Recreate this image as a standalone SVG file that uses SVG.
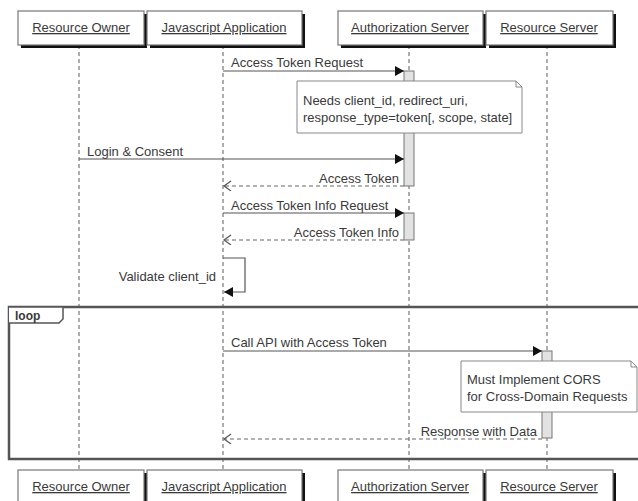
<svg xmlns="http://www.w3.org/2000/svg" width="638" height="501" viewBox="0 0 638 501">
<style>
text{font-family:"Liberation Sans",Arial,sans-serif;font-size:13px;fill:#3a3a3a}
.pbox{fill:#fff;stroke:#777;stroke-width:1.2}
.shadow{fill:#111}
.plabel{text-anchor:middle;text-decoration:underline}
.life{stroke:#777;stroke-width:1.2;stroke-dasharray:4,3;fill:none}
.msg{stroke:#555;stroke-width:1.2;fill:none}
.ret{stroke:#666;stroke-width:1.2;stroke-dasharray:4,3;fill:none}
.act{fill:#e2e2e2;stroke:#777;stroke-width:1}
.note{fill:#fff;stroke:#888;stroke-width:1}
.r{text-anchor:end}
</style>
<defs>
<marker id="filled" markerWidth="10" markerHeight="10" refX="9" refY="5" orient="auto" markerUnits="userSpaceOnUse">
<path d="M0,0 L9,5 L0,10 Z" fill="#111"/>
</marker>
<marker id="open" markerWidth="10" markerHeight="12" refX="8" refY="5" orient="auto" markerUnits="userSpaceOnUse">
<path d="M1,0 L8,5 L1,10" fill="none" stroke="#555" stroke-width="1.2"/>
</marker>
</defs>
<rect width="638" height="501" fill="#fff"/>

<g id="lifelines">
<line class="life" x1="79" y1="45" x2="79" y2="470"/>
<line class="life" x1="223" y1="45" x2="223" y2="470"/>
<line class="life" x1="409" y1="45" x2="409" y2="470"/>
<line class="life" x1="547" y1="45" x2="547" y2="470"/>
</g>

<g id="loop-frame">
<rect x="9" y="307" width="640" height="152" fill="none" stroke="#555" stroke-width="2.5"/>
<path d="M9,307 H63 V319 L59,323 H9" fill="#fff" stroke="#555" stroke-width="1.5"/>
<text x="15" y="320" style="font-weight:bold;font-size:12px">loop</text>
</g>

<g id="activations">
<rect class="act" x="404" y="71" width="10" height="115"/>
<rect class="act" x="404" y="213" width="10" height="27"/>
<rect class="act" x="542" y="351" width="10" height="87"/>
</g>

<g id="p-top-ro"><rect class="shadow" x="21" y="14" width="126" height="34"/><rect class="pbox" x="18" y="11" width="126" height="34"/><text class="plabel" x="81" y="32">Resource Owner</text></g>
<g id="p-top-js"><rect class="shadow" x="150" y="14" width="155" height="34"/><rect class="pbox" x="147" y="11" width="155" height="34"/><text class="plabel" x="224" y="32">Javascript Application</text></g>
<g id="p-top-as"><rect class="shadow" x="341" y="14" width="145" height="34"/><rect class="pbox" x="338" y="11" width="145" height="34"/><text class="plabel" x="410" y="32">Authorization Server</text></g>
<g id="p-top-rs"><rect class="shadow" x="489" y="14" width="127" height="34"/><rect class="pbox" x="486" y="11" width="127" height="34"/><text class="plabel" x="549" y="32">Resource Server</text></g>

<g id="p-bot-ro"><rect class="shadow" x="21" y="473" width="126" height="34"/><rect class="pbox" x="18" y="470" width="126" height="34"/><text class="plabel" x="81" y="491">Resource Owner</text></g>
<g id="p-bot-js"><rect class="shadow" x="150" y="473" width="155" height="34"/><rect class="pbox" x="147" y="470" width="155" height="34"/><text class="plabel" x="224" y="491">Javascript Application</text></g>
<g id="p-bot-as"><rect class="shadow" x="341" y="473" width="145" height="34"/><rect class="pbox" x="338" y="470" width="145" height="34"/><text class="plabel" x="410" y="491">Authorization Server</text></g>
<g id="p-bot-rs"><rect class="shadow" x="489" y="473" width="127" height="34"/><rect class="pbox" x="486" y="470" width="127" height="34"/><text class="plabel" x="549" y="491">Resource Server</text></g>

<g id="connectors">
<line class="msg" x1="223" y1="71" x2="404" y2="71" marker-end="url(#filled)"/>
<text x="231" y="67">Access Token Request</text>
<line class="msg" x1="79" y1="159" x2="404" y2="159" marker-end="url(#filled)"/>
<text x="87" y="156">Login &amp; Consent</text>
<line class="ret" x1="404" y1="186" x2="224" y2="186" marker-end="url(#open)"/>
<text class="r" x="399" y="183">Access Token</text>
<line class="msg" x1="223" y1="213" x2="404" y2="213" marker-end="url(#filled)"/>
<text x="231" y="210">Access Token Info Request</text>
<line class="ret" x1="404" y1="240" x2="224" y2="240" marker-end="url(#open)"/>
<text class="r" x="399" y="237">Access Token Info</text>
<path class="msg" d="M223,258 H245 V292 H224" marker-end="url(#filled)"/>
<text class="r" x="216" y="281">Validate client_id</text>
<line class="msg" x1="223" y1="351" x2="542" y2="351" marker-end="url(#filled)"/>
<text x="231" y="347">Call API with Access Token</text>
<line class="ret" x1="542" y1="439" x2="224" y2="439" marker-end="url(#open)"/>
<text class="r" x="537" y="436">Response with Data</text>
</g>

<g id="note-1">
<path class="note" d="M297,81 H516 L522,87 V133 H297 Z"/>
<path d="M516,81 V87 H522" fill="none" stroke="#888"/>
<text x="303" y="105">Needs client_id, redirect_uri,</text>
<text x="303" y="122">response_type=token[, scope, state]</text>
</g>
<g id="note-2">
<path class="note" d="M461,361 H631 L637,367 V412 H461 Z"/>
<path d="M631,361 V367 H637" fill="none" stroke="#888"/>
<text x="467" y="384">Must Implement CORS</text>
<text x="467" y="401">for Cross-Domain Requests</text>
</g>
</svg>
